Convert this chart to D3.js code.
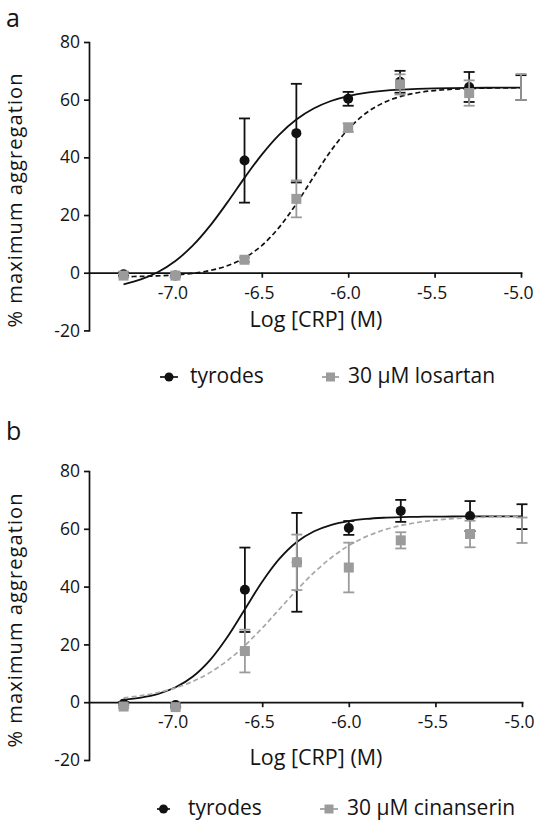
<!DOCTYPE html>
<html>
<head>
<meta charset="utf-8">
<script src="https://cdn.jsdelivr.net/npm/d3@7"></script>
<style>
  html, body { margin: 0; padding: 0; background: #fff; }
  svg { display: block; }
  text { font-family: "Open Sans", "Noto Sans", sans-serif; fill: #141414; }
</style>
</head>
<body>
<svg id="chart" width="536" height="826"></svg>
<script>
// ---------- data ----------
const logConc = [-7.3, -7.0, -6.6, -6.3, -6.0, -5.7, -5.3, -5.0];

const tyrodesMean = [-0.5, -1.0, 38.9, 48.4, 60.3, 66.2, 64.4, 64.2];
const tyrodesSem  = [0.6, 0.6, 14.6, 17.1, 2.4, 3.8, 5.2, 4.3];

const losartanMean = [-1.0, -1.0, 4.5, 25.6, 50.3, 65.3, 62.3, 64.4];
const losartanSem  = [0.5, 0.5, 0.8, 6.4, 1.5, 3.5, 4.4, 4.5];

const cinanserinMean = [-1.5, -1.7, 17.7, 48.4, 46.6, 56.0, 58.2, 59.5];
const cinanserinSem  = [0.5, 0.5, 7.4, 9.6, 8.6, 2.8, 4.6, 4.4];

// fitted curves
const fitX = [-7.3, -7.2, -7.1, -7.0, -6.9, -6.8, -6.7, -6.6, -6.5, -6.4, -6.3, -6.2,
              -6.1, -6.0, -5.9, -5.8, -5.7, -5.6, -5.5, -5.4, -5.3, -5.2, -5.1, -5.0];
const fitTyrodesA = [-4.05, -2.34, 0.26, 4.07, 9.37, 16.23, 24.31, 32.89, 40.97, 47.83, 53.13, 56.94,
                     59.54, 61.25, 62.36, 63.05, 63.49, 63.76, 63.93, 64.03, 64.10, 64.14, 64.16, 64.18];
const fitLosartan = [-1.37, -1.27, -1.09, -0.77, -0.21, 0.75, 2.40, 5.13, 9.43, 15.71, 23.92, 33.24,
                     42.27, 49.76, 55.21, 58.83, 61.06, 62.40, 63.17, 63.62, 63.87, 64.02, 64.10, 64.14];
const fitTyrodesB = [0.89, 1.61, 2.91, 5.15, 8.88, 14.65, 22.63, 32.15, 41.67, 49.65, 55.42, 59.15,
                     61.39, 62.69, 63.41, 63.82, 64.04, 64.16, 64.22, 64.26, 64.28, 64.29, 64.30, 64.30];
const fitCinanserin = [1.51, 2.26, 3.36, 4.95, 7.21, 10.32, 14.44, 19.60, 25.66, 32.25, 38.84, 44.91,
                       50.07, 54.18, 57.29, 59.55, 61.14, 62.24, 62.99, 63.49, 63.83, 64.06, 64.21, 64.31];

const xTicks = [-7.0, -6.5, -6.0, -5.5, -5.0];
const yTicks = [-20, 0, 20, 40, 60, 80];
const xDomain = [-7.5, -5.0];
const yDomain = [-20, 80];

const panelLetters = ["a", "b"];
const xTitle = "Log [CRP] (M)";
const yTitle = "% maximum aggregation";
const legendA = ["tyrodes", "30 µM losartan"];
const legendB = ["tyrodes", "30 µM cinanserin"];

// ---------- drawing ----------
const svg = d3.select("#chart");
const BLACK = "#111", GREY = "#9b9b9b", GREY_LINE = "#a8a8a8";

function drawPanel(cfg) {
  const g = svg.append("g");
  const x = d3.scaleLinear().domain(xDomain).range(cfg.xRange);
  const y = d3.scaleLinear().domain(yDomain).range(cfg.yRange);

  // y axis
  const ya = g.append("g").attr("transform", `translate(${cfg.xRange[0]},0)`)
    .call(d3.axisLeft(y).tickValues(yTicks).tickSize(5).tickSizeOuter(0).tickPadding(4)
      .tickFormat(d => String(d)));
  ya.selectAll("path,line").attr("stroke", BLACK).attr("stroke-width", 1.7);
  ya.selectAll("text").style("font-size", "17.5px").attr("fill", "#141414").attr("font-family", null);

  // x axis at y = 0
  const xa = g.append("g").attr("transform", `translate(0,${y(0)})`)
    .call(d3.axisBottom(x).tickValues(xTicks).tickSize(5).tickSizeOuter(0).tickFormat(d => d.toFixed(1)));
  xa.selectAll("path,line").attr("stroke", BLACK).attr("stroke-width", 1.7);
  xa.selectAll("text").style("font-size", "17.5px").attr("fill", "#141414")
    .attr("y", 26).attr("dy", 0).attr("dx", -3).attr("font-family", null);
  g.selectAll(".domain").attr("stroke-linecap", "square");

  // titles
  g.append("text").attr("x", 6).attr("y", cfg.letterY).style("font-size", "25px").text(cfg.letter);
  g.append("text").attr("transform", `translate(${cfg.yTitleX},${cfg.yTitleY}) rotate(-90)`)
    .attr("text-anchor", "middle").style("font-size", "20px").style("letter-spacing", "1.1px")
    .text(yTitle);
  g.append("text").attr("x", cfg.xTitleX).attr("y", cfg.xTitleY)
    .attr("text-anchor", "middle").style("font-size", "21.5px").text(xTitle);

  // curves
  const line = d3.line().x((d, i) => x(fitX[i])).y(d => y(d)).curve(d3.curveCatmullRom);
  g.append("path").datum(cfg.fitCtrl).attr("d", line)
    .attr("fill", "none").attr("stroke", BLACK).attr("stroke-width", 1.8);
  g.append("path").datum(cfg.fitTrt).attr("d", line)
    .attr("fill", "none").attr("stroke", cfg.trtLineColor).attr("stroke-width", 1.7)
    .attr("stroke-dasharray", "5,3");

  // error bars + markers
  function series(mean, sem, color, shape) {
    const data = logConc.map((c, i) => ({ c, m: mean[i], s: sem[i] }));
    const eb = g.append("g").attr("stroke", color).attr("stroke-width", 1.8);
    data.forEach(d => {
      const x0 = x(d.c), y1 = y(d.m + d.s), y2 = y(d.m - d.s);
      eb.append("line").attr("x1", x0).attr("x2", x0).attr("y1", y1).attr("y2", y2);
      eb.append("line").attr("x1", x0 - 5.5).attr("x2", x0 + 5.5).attr("y1", y1).attr("y2", y1);
      eb.append("line").attr("x1", x0 - 5.5).attr("x2", x0 + 5.5).attr("y1", y2).attr("y2", y2);
    });
    // markers lying on the right edge of the axis are not drawn (as in the original)
    const shown = data.filter(d => d.c < xDomain[1]);
    if (shape === "circle") {
      g.append("g").selectAll("circle").data(shown).join("circle")
        .attr("cx", d => x(d.c)).attr("cy", d => y(d.m)).attr("r", 5).attr("fill", color);
    } else {
      g.append("g").selectAll("rect").data(shown).join("rect")
        .attr("x", d => x(d.c) - 5).attr("y", d => y(d.m) - 5)
        .attr("width", 10).attr("height", 10).attr("fill", color);
    }
  }
  series(tyrodesMean, tyrodesSem, BLACK, "circle");
  series(cfg.trtMean, cfg.trtSem, GREY, "square");

  // legend
  const lg = g.append("g");
  const ly = cfg.legendY;
  lg.append("line").attr("x1", cfg.leg1[0]).attr("x2", cfg.leg1[1]).attr("y1", ly).attr("y2", ly)
    .attr("stroke", BLACK).attr("stroke-width", 1.7);
  lg.append("circle").attr("cx", (cfg.leg1[0] + cfg.leg1[1]) / 2).attr("cy", ly).attr("r", 4.5).attr("fill", BLACK);
  lg.append("text").attr("x", cfg.leg1[2]).attr("y", ly + 6).style("font-size", "21px").text(cfg.legend[0]);
  lg.append("line").attr("x1", cfg.leg2[0]).attr("x2", cfg.leg2[1]).attr("y1", ly).attr("y2", ly)
    .attr("stroke", GREY).attr("stroke-width", 1.7);
  const sx = (cfg.leg2[0] + cfg.leg2[1]) / 2;
  lg.append("rect").attr("x", sx - 4.5).attr("y", ly - 4.5).attr("width", 9).attr("height", 9).attr("fill", GREY);
  lg.append("text").attr("x", cfg.leg2[2]).attr("y", ly + 6).style("font-size", "21px").text(cfg.legend[1]);
}

drawPanel({
  letter: panelLetters[0], letterY: 27,
  xRange: [89, 521], yRange: [330.4, 42],
  yTitleX: 21.5, yTitleY: 200, xTitleX: 316, xTitleY: 327,
  fitCtrl: fitTyrodesA, fitTrt: fitLosartan, trtLineColor: BLACK,
  trtMean: losartanMean, trtSem: losartanSem,
  legendY: 377, leg1: [160, 178, 190], leg2: [322, 339, 348], legend: legendA
});

drawPanel({
  letter: panelLetters[1], letterY: 440,
  xRange: [89, 522], yRange: [760, 471],
  yTitleX: 21.5, yTitleY: 620, xTitleX: 316, xTitleY: 765,
  fitCtrl: fitTyrodesB, fitTrt: fitCinanserin, trtLineColor: GREY_LINE,
  trtMean: cinanserinMean, trtSem: cinanserinSem,
  legendY: 809, leg1: [157, 170, 188], leg2: [320, 338, 347], legend: legendB
});
</script>
</body>
</html>
